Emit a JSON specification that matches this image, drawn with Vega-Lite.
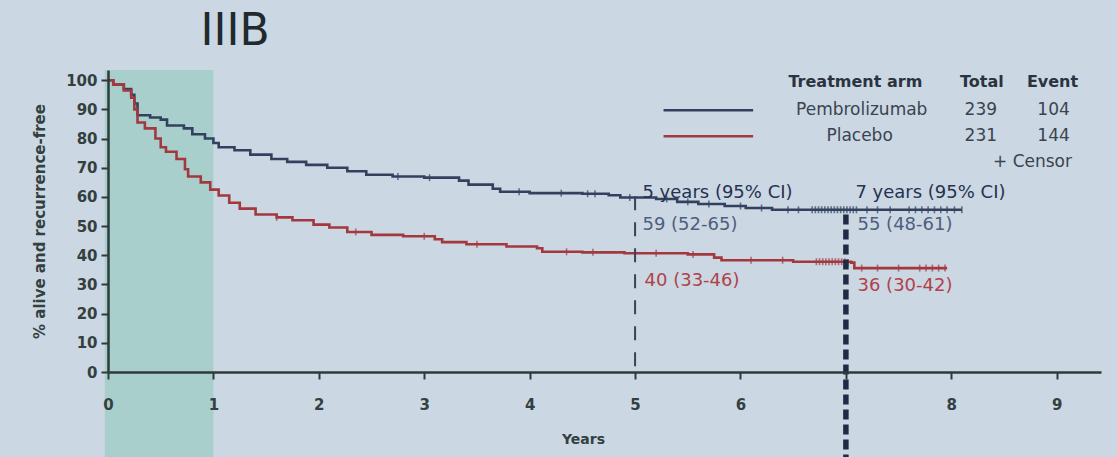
{
  "$schema": "https://vega.github.io/schema/vega-lite/v6.json",
  "width": 993,
  "height": 302,
  "autosize": {"type": "none"},
  "padding": {"left": 108, "top": 70, "right": 16, "bottom": 85},
  "background": "#cbd7e3",
  "config": {"view": {"stroke": null}, "font": "DejaVu Sans"},
  "datasets": {
    "band": [{"t": -0.03, "t2": 1.0, "v": -30, "v2": 103.5}],
    "ref5": [{"t": 5, "v": 60.2, "v2": 0}],
    "ref7": [{"t": 7, "v": 54, "v2": -30}],
    "curves": [
      {"arm": "Pembrolizumab", "t": 0, "v": 100},
      {"arm": "Pembrolizumab", "t": 0.05, "v": 98.5},
      {"arm": "Pembrolizumab", "t": 0.15, "v": 97},
      {"arm": "Pembrolizumab", "t": 0.22, "v": 95},
      {"arm": "Pembrolizumab", "t": 0.25, "v": 92},
      {"arm": "Pembrolizumab", "t": 0.28, "v": 88},
      {"arm": "Pembrolizumab", "t": 0.4, "v": 87.2},
      {"arm": "Pembrolizumab", "t": 0.5, "v": 86.5},
      {"arm": "Pembrolizumab", "t": 0.56, "v": 84.5},
      {"arm": "Pembrolizumab", "t": 0.72, "v": 83.5},
      {"arm": "Pembrolizumab", "t": 0.8, "v": 81.5},
      {"arm": "Pembrolizumab", "t": 0.92, "v": 80},
      {"arm": "Pembrolizumab", "t": 1.0, "v": 78.5},
      {"arm": "Pembrolizumab", "t": 1.05, "v": 77},
      {"arm": "Pembrolizumab", "t": 1.2, "v": 76},
      {"arm": "Pembrolizumab", "t": 1.35, "v": 74.5},
      {"arm": "Pembrolizumab", "t": 1.55, "v": 73},
      {"arm": "Pembrolizumab", "t": 1.7, "v": 72},
      {"arm": "Pembrolizumab", "t": 1.88, "v": 71},
      {"arm": "Pembrolizumab", "t": 2.08, "v": 70},
      {"arm": "Pembrolizumab", "t": 2.27, "v": 68.8},
      {"arm": "Pembrolizumab", "t": 2.45, "v": 67.6},
      {"arm": "Pembrolizumab", "t": 2.7, "v": 67},
      {"arm": "Pembrolizumab", "t": 3.0, "v": 66.6},
      {"arm": "Pembrolizumab", "t": 3.33, "v": 65.6},
      {"arm": "Pembrolizumab", "t": 3.42, "v": 64.2},
      {"arm": "Pembrolizumab", "t": 3.65, "v": 62.8},
      {"arm": "Pembrolizumab", "t": 3.72, "v": 61.8},
      {"arm": "Pembrolizumab", "t": 4.0, "v": 61.3},
      {"arm": "Pembrolizumab", "t": 4.5, "v": 61.1},
      {"arm": "Pembrolizumab", "t": 4.75, "v": 60.6},
      {"arm": "Pembrolizumab", "t": 4.86, "v": 59.8},
      {"arm": "Pembrolizumab", "t": 5.2, "v": 59.3},
      {"arm": "Pembrolizumab", "t": 5.4, "v": 58.3},
      {"arm": "Pembrolizumab", "t": 5.6, "v": 57.6},
      {"arm": "Pembrolizumab", "t": 5.85, "v": 56.9},
      {"arm": "Pembrolizumab", "t": 6.05, "v": 56.2},
      {"arm": "Pembrolizumab", "t": 6.3, "v": 55.6},
      {"arm": "Pembrolizumab", "t": 8.1, "v": 55.6},
      {"arm": "Placebo", "t": 0, "v": 100},
      {"arm": "Placebo", "t": 0.05, "v": 98.5},
      {"arm": "Placebo", "t": 0.15, "v": 96.5},
      {"arm": "Placebo", "t": 0.22, "v": 94},
      {"arm": "Placebo", "t": 0.25, "v": 90},
      {"arm": "Placebo", "t": 0.28, "v": 85.5},
      {"arm": "Placebo", "t": 0.35, "v": 83.5},
      {"arm": "Placebo", "t": 0.45, "v": 80},
      {"arm": "Placebo", "t": 0.5, "v": 77},
      {"arm": "Placebo", "t": 0.55, "v": 75.5},
      {"arm": "Placebo", "t": 0.65, "v": 73},
      {"arm": "Placebo", "t": 0.73, "v": 69.5},
      {"arm": "Placebo", "t": 0.76, "v": 67},
      {"arm": "Placebo", "t": 0.88, "v": 65},
      {"arm": "Placebo", "t": 0.97, "v": 62.5},
      {"arm": "Placebo", "t": 1.05, "v": 60.5},
      {"arm": "Placebo", "t": 1.15, "v": 58},
      {"arm": "Placebo", "t": 1.25, "v": 56},
      {"arm": "Placebo", "t": 1.4, "v": 54},
      {"arm": "Placebo", "t": 1.6, "v": 53},
      {"arm": "Placebo", "t": 1.75, "v": 52},
      {"arm": "Placebo", "t": 1.95, "v": 50.5},
      {"arm": "Placebo", "t": 2.1, "v": 49.5},
      {"arm": "Placebo", "t": 2.27, "v": 48},
      {"arm": "Placebo", "t": 2.5, "v": 47},
      {"arm": "Placebo", "t": 2.8, "v": 46.5},
      {"arm": "Placebo", "t": 3.1, "v": 45.5},
      {"arm": "Placebo", "t": 3.17, "v": 44.5},
      {"arm": "Placebo", "t": 3.4, "v": 43.8},
      {"arm": "Placebo", "t": 3.78, "v": 43},
      {"arm": "Placebo", "t": 4.07, "v": 42.4},
      {"arm": "Placebo", "t": 4.12, "v": 41.2},
      {"arm": "Placebo", "t": 4.5, "v": 41},
      {"arm": "Placebo", "t": 4.9, "v": 40.7},
      {"arm": "Placebo", "t": 5.5, "v": 40.3},
      {"arm": "Placebo", "t": 5.75, "v": 39.2},
      {"arm": "Placebo", "t": 5.82, "v": 38.3},
      {"arm": "Placebo", "t": 6.5, "v": 37.8},
      {"arm": "Placebo", "t": 7.05, "v": 37.5},
      {"arm": "Placebo", "t": 7.08, "v": 35.6},
      {"arm": "Placebo", "t": 7.96, "v": 35.6}
    ],
    "censor": [
      {"arm": "Pembrolizumab", "t": 2.75, "v": 67},
      {"arm": "Pembrolizumab", "t": 3.05, "v": 66.6},
      {"arm": "Pembrolizumab", "t": 3.9, "v": 61.8},
      {"arm": "Pembrolizumab", "t": 4.3, "v": 61.3},
      {"arm": "Pembrolizumab", "t": 4.55, "v": 61.1},
      {"arm": "Pembrolizumab", "t": 4.62, "v": 61.1},
      {"arm": "Pembrolizumab", "t": 4.95, "v": 59.8},
      {"arm": "Pembrolizumab", "t": 5.3, "v": 59.3},
      {"arm": "Pembrolizumab", "t": 5.5, "v": 58.3},
      {"arm": "Pembrolizumab", "t": 5.7, "v": 57.6},
      {"arm": "Pembrolizumab", "t": 6.0, "v": 56.9},
      {"arm": "Pembrolizumab", "t": 6.2, "v": 56.2},
      {"arm": "Pembrolizumab", "t": 6.45, "v": 55.6},
      {"arm": "Pembrolizumab", "t": 6.55, "v": 55.6},
      {"arm": "Pembrolizumab", "t": 6.68, "v": 55.6},
      {"arm": "Pembrolizumab", "t": 6.71, "v": 55.6},
      {"arm": "Pembrolizumab", "t": 6.74, "v": 55.6},
      {"arm": "Pembrolizumab", "t": 6.77, "v": 55.6},
      {"arm": "Pembrolizumab", "t": 6.8, "v": 55.6},
      {"arm": "Pembrolizumab", "t": 6.83, "v": 55.6},
      {"arm": "Pembrolizumab", "t": 6.86, "v": 55.6},
      {"arm": "Pembrolizumab", "t": 6.89, "v": 55.6},
      {"arm": "Pembrolizumab", "t": 6.92, "v": 55.6},
      {"arm": "Pembrolizumab", "t": 6.95, "v": 55.6},
      {"arm": "Pembrolizumab", "t": 6.98, "v": 55.6},
      {"arm": "Pembrolizumab", "t": 7.01, "v": 55.6},
      {"arm": "Pembrolizumab", "t": 7.04, "v": 55.6},
      {"arm": "Pembrolizumab", "t": 7.07, "v": 55.6},
      {"arm": "Pembrolizumab", "t": 7.1, "v": 55.6},
      {"arm": "Pembrolizumab", "t": 7.2, "v": 55.6},
      {"arm": "Pembrolizumab", "t": 7.3, "v": 55.6},
      {"arm": "Pembrolizumab", "t": 7.42, "v": 55.6},
      {"arm": "Pembrolizumab", "t": 7.6, "v": 55.6},
      {"arm": "Pembrolizumab", "t": 7.66, "v": 55.6},
      {"arm": "Pembrolizumab", "t": 7.72, "v": 55.6},
      {"arm": "Pembrolizumab", "t": 7.78, "v": 55.6},
      {"arm": "Pembrolizumab", "t": 7.84, "v": 55.6},
      {"arm": "Pembrolizumab", "t": 7.9, "v": 55.6},
      {"arm": "Pembrolizumab", "t": 7.96, "v": 55.6},
      {"arm": "Pembrolizumab", "t": 8.03, "v": 55.6},
      {"arm": "Pembrolizumab", "t": 8.1, "v": 55.6},
      {"arm": "Placebo", "t": 1.6, "v": 53},
      {"arm": "Placebo", "t": 2.35, "v": 48},
      {"arm": "Placebo", "t": 3.0, "v": 46.5},
      {"arm": "Placebo", "t": 3.5, "v": 43.8},
      {"arm": "Placebo", "t": 4.35, "v": 41.2},
      {"arm": "Placebo", "t": 4.6, "v": 41},
      {"arm": "Placebo", "t": 5.2, "v": 40.7},
      {"arm": "Placebo", "t": 5.55, "v": 40.3},
      {"arm": "Placebo", "t": 6.1, "v": 38.3},
      {"arm": "Placebo", "t": 6.4, "v": 38.3},
      {"arm": "Placebo", "t": 6.72, "v": 37.8},
      {"arm": "Placebo", "t": 6.75, "v": 37.8},
      {"arm": "Placebo", "t": 6.78, "v": 37.8},
      {"arm": "Placebo", "t": 6.81, "v": 37.8},
      {"arm": "Placebo", "t": 6.84, "v": 37.8},
      {"arm": "Placebo", "t": 6.87, "v": 37.8},
      {"arm": "Placebo", "t": 6.9, "v": 37.8},
      {"arm": "Placebo", "t": 6.93, "v": 37.8},
      {"arm": "Placebo", "t": 6.96, "v": 37.8},
      {"arm": "Placebo", "t": 6.99, "v": 37.8},
      {"arm": "Placebo", "t": 7.02, "v": 37.5},
      {"arm": "Placebo", "t": 7.15, "v": 35.6},
      {"arm": "Placebo", "t": 7.3, "v": 35.6},
      {"arm": "Placebo", "t": 7.5, "v": 35.6},
      {"arm": "Placebo", "t": 7.7, "v": 35.6},
      {"arm": "Placebo", "t": 7.76, "v": 35.6},
      {"arm": "Placebo", "t": 7.82, "v": 35.6},
      {"arm": "Placebo", "t": 7.88, "v": 35.6},
      {"arm": "Placebo", "t": 7.94, "v": 35.6}
    ],
    "legendLines": [
      {"arm": "Pembrolizumab", "t": 5.27, "t2": 6.12, "v": 89.7},
      {"arm": "Placebo", "t": 5.27, "t2": 6.12, "v": 80.8}
    ],
    "title": [{"label": "IIIB", "t": 1.205, "v": 112}],
    "legendHeader": [
      {"label": "Treatment arm", "t": 7.09, "v": 99.3},
      {"label": "Total", "t": 8.29, "v": 99.3},
      {"label": "Event", "t": 8.96, "v": 99.3}
    ],
    "legendRows": [
      {"label": "Pembrolizumab", "t": 7.15, "v": 89.7},
      {"label": "239", "t": 8.28, "v": 89.7},
      {"label": "104", "t": 8.97, "v": 89.7},
      {"label": "Placebo", "t": 7.13, "v": 80.8},
      {"label": "231", "t": 8.28, "v": 80.8},
      {"label": "144", "t": 8.97, "v": 80.8},
      {"label": "+  Censor", "t": 8.77, "v": 71.9}
    ],
    "ciHeads": [
      {"label": "5 years (95% CI)", "t": 5.07, "v": 61.3},
      {"label": "7 years (95% CI)", "t": 7.09, "v": 61.3}
    ],
    "ciBlue": [
      {"label": "59 (52-65)", "t": 5.07, "v": 50.3},
      {"label": "55 (48-61)", "t": 7.11, "v": 50.3}
    ],
    "ciRed": [
      {"label": "40 (33-46)", "t": 5.09, "v": 31.1},
      {"label": "36 (30-42)", "t": 7.11, "v": 29.4}
    ]
  },
  "encoding": {
    "x": {
      "field": "t", "type": "quantitative",
      "scale": {"domain": [0, 9.42], "nice": false, "zero": false},
      "axis": {
        "values": [0, 1, 2, 3, 4, 5, 6, 7, 8, 9],
        "title": "Years",
        "labelExpr": "datum.value == 7 ? '' : datum.label",
        "labelFlush": false,
        "grid": false,
        "domainColor": "#2e3a3b", "domainWidth": 2.5,
        "tickColor": "#2e3a3b", "tickWidth": 2, "tickSize": 7,
        "labelFont": "DejaVu Sans", "labelFontWeight": "bold", "labelFontSize": 15,
        "labelColor": "#33403f", "labelPadding": 18,
        "titleFont": "DejaVu Sans", "titleFontSize": 14, "titleFontWeight": "bold",
        "titleColor": "#33403f", "titlePadding": 20, "titleX": 475,
        "zindex": 1
      }
    },
    "y": {
      "field": "v", "type": "quantitative",
      "scale": {"domain": [0, 103.5], "nice": false},
      "axis": {
        "values": [0, 10, 20, 30, 40, 50, 60, 70, 80, 90, 100],
        "title": "% alive and recurrence-free",
        "grid": false,
        "domainColor": "#2e3a3b", "domainWidth": 2.5,
        "tickColor": "#2e3a3b", "tickWidth": 2, "tickSize": 7,
        "labelFont": "DejaVu Sans", "labelFontWeight": "bold", "labelFontSize": 15,
        "labelColor": "#33403f", "labelPadding": 4,
        "titleFont": "DejaVu Sans", "titleFontSize": 15, "titleFontWeight": "bold",
        "titleColor": "#33403f", "titlePadding": 18,
        "zindex": 1
      }
    }
  },
  "layer": [
    {
      "data": {"name": "band"},
      "mark": {"type": "rect", "color": "#a9cfcc", "clip": false},
      "encoding": {"x2": {"field": "t2"}, "y2": {"field": "v2"}}
    },
    {
      "data": {"name": "curves"},
      "mark": {"type": "line", "interpolate": "step-after", "strokeWidth": 2.6},
      "encoding": {
        "color": {"field": "arm", "type": "nominal",
          "scale": {"domain": ["Pembrolizumab", "Placebo"], "range": ["#33415f", "#a3393f"]},
          "legend": null}
      }
    },
    {
      "data": {"name": "censor"},
      "mark": {"type": "tick", "orient": "vertical", "size": 7, "thickness": 1.6},
      "encoding": {"color": {"field": "arm", "type": "nominal"}}
    },
    {
      "data": {"name": "ref5"},
      "mark": {"type": "rule", "color": "#3b4354", "strokeWidth": 2, "strokeDash": [14, 12]},
      "encoding": {"y2": {"field": "v2"}}
    },
    {
      "data": {"name": "ref7"},
      "mark": {"type": "rule", "color": "#1f2b45", "strokeWidth": 5.5, "strokeDash": [10, 5], "clip": false},
      "encoding": {"y2": {"field": "v2"}}
    },
    {
      "data": {"name": "legendLines"},
      "mark": {"type": "rule", "strokeWidth": 2.6},
      "encoding": {"x2": {"field": "t2"}, "color": {"field": "arm", "type": "nominal"}}
    },
    {
      "data": {"name": "title"},
      "mark": {"type": "text", "font": "DejaVu Sans", "fontSize": 44, "color": "#1f2a2e", "align": "center", "baseline": "alphabetic", "clip": false},
      "encoding": {"text": {"field": "label"}}
    },
    {
      "data": {"name": "legendHeader"},
      "mark": {"type": "text", "font": "DejaVu Sans", "fontSize": 16, "fontWeight": "bold", "color": "#2a3340", "align": "center", "baseline": "middle"},
      "encoding": {"text": {"field": "label"}}
    },
    {
      "data": {"name": "legendRows"},
      "mark": {"type": "text", "font": "DejaVu Sans", "fontSize": 17, "color": "#3a4450", "align": "center", "baseline": "middle"},
      "encoding": {"text": {"field": "label"}}
    },
    {
      "data": {"name": "ciHeads"},
      "mark": {"type": "text", "font": "DejaVu Sans", "fontSize": 18, "color": "#26324f", "align": "left", "baseline": "middle"},
      "encoding": {"text": {"field": "label"}}
    },
    {
      "data": {"name": "ciBlue"},
      "mark": {"type": "text", "font": "DejaVu Sans", "fontSize": 18, "color": "#4f5e7e", "align": "left", "baseline": "middle"},
      "encoding": {"text": {"field": "label"}}
    },
    {
      "data": {"name": "ciRed"},
      "mark": {"type": "text", "font": "DejaVu Sans", "fontSize": 18, "color": "#b0434a", "align": "left", "baseline": "middle"},
      "encoding": {"text": {"field": "label"}}
    }
  ]
}
